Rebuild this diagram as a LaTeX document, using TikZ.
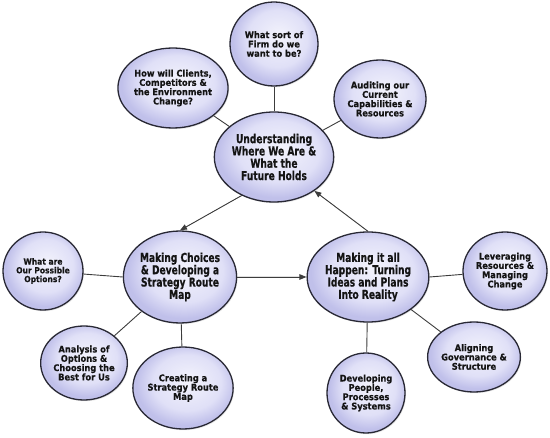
\documentclass[tikz,border=0pt]{standalone}
\usepackage{fontspec}
\usepackage{tikz}
\usetikzlibrary{arrows.meta,positioning,shapes.geometric,shadows}
\newfontfamily\grandfont{DejaVu Sans Bold}[FakeStretch=0.74,FakeBold=0.5]
\newfontfamily\petitfont{DejaVu Sans Bold}[FakeStretch=0.9,FakeBold=0.4]
\definecolor{lavA}{HTML}{F3F3FC}
\definecolor{lavB}{HTML}{E0E0F7}
\definecolor{lavC}{HTML}{C0C0EA}
\definecolor{bordC}{RGB}{40,40,52}
\definecolor{lienC}{RGB}{60,60,60}
\pgfdeclareradialshading{bulle}{\pgfpoint{3bp}{5bp}}{%
  color(0bp)=(lavA); color(17bp)=(lavB); color(25bp)=(lavC); color(50bp)=(lavC)}
\tikzset{
  rond/.style={ellipse, draw=bordC, line width=1.3pt, shading=bulle,
               align=center, inner sep=0pt, text=black!92,
               drop shadow={shadow xshift=1pt, shadow yshift=-1.2pt, opacity=0.2}},
  hub/.style={rond, font=\grandfont\fontsize{12.3}{12.3}\selectfont},
  sat/.style={rond, font=\petitfont\fontsize{9.2}{9.3}\selectfont},
  lien/.style={line width=0.9pt, draw=lienC},
  arr/.style={-{Triangle[length=7pt,width=5.5pt]}, line width=0.9pt, draw=lienC, fill=black},
}
\begin{document}
\begin{tikzpicture}[x=1pt,y=-1pt]
  \useasboundingbox (0,0) rectangle (550,438);
  \node[hub, minimum width=102pt, minimum height=90pt] (und) at (274,157)
    {Understanding\\Where We Are \&\\What the\\Future Holds};
  \node[hub, minimum width=104pt, minimum height=92pt] (choix) at (180,277)
    {Making Choices\\\& Developing a\\Strategy Route\\Map};
  \node[hub, minimum width=106pt, minimum height=90pt] (real) at (368,277)
    {Making it all\\Happen: Turning\\Ideas and Plans\\Into Reality};
  \node[sat, minimum width=88pt, minimum height=84pt] (firm) at (274,44)
    {What sort of\\Firm do we\\want to be?};
  \node[sat, minimum width=92pt, minimum height=80pt] (clients) at (173,88)
    {How will Clients,\\Competitors \&\\the Environment\\Change?};
  \node[sat, minimum width=84pt, minimum height=78pt] (audit) at (380,99)
    {Auditing our\\Current\\Capabilities \&\\Resources};
  \node[sat, minimum width=80pt, minimum height=78pt, font=\petitfont\fontsize{8.4}{8.8}\selectfont] (options) at (43,271)
    {What are\\Our Possible\\Options?};
  \node[sat, minimum width=82pt, minimum height=74pt] (analyse) at (84,363)
    {Analysis of\\Options \&\\Choosing the\\Best for Us};
  \node[sat, minimum width=80pt, minimum height=82pt] (carte) at (183,388)
    {Creating a\\Strategy Route\\Map};
  \node[sat, minimum width=84pt, minimum height=78pt] (levier) at (505,271)
    {Leveraging\\Resources \&\\Managing\\Change};
  \node[sat, minimum width=82pt, minimum height=70pt] (gouv) at (474,357)
    {Aligning\\Governance \&\\Structure};
  \node[sat, minimum width=78pt, minimum height=80pt] (gens) at (366,393)
    {Developing\\People,\\Processes\\\& Systems};
  \draw[lien] (und) -- (firm);
  \draw[lien] (und) -- (clients);
  \draw[lien] (und) -- (audit);
  \draw[lien] (choix.west) -- (options);
  \draw[lien] (choix) -- (analyse);
  \draw[lien] (choix) -- (carte);
  \draw[lien] (real.east) -- (levier);
  \draw[lien] (real) -- (gouv);
  \draw[lien] (real) -- (gens);
  \draw[arr] (und.230) -- (choix.north);
  \draw[arr] (choix.east) -- (real.west);
  \draw[arr] (real.north) -- (und.320);
\end{tikzpicture}
\end{document}
